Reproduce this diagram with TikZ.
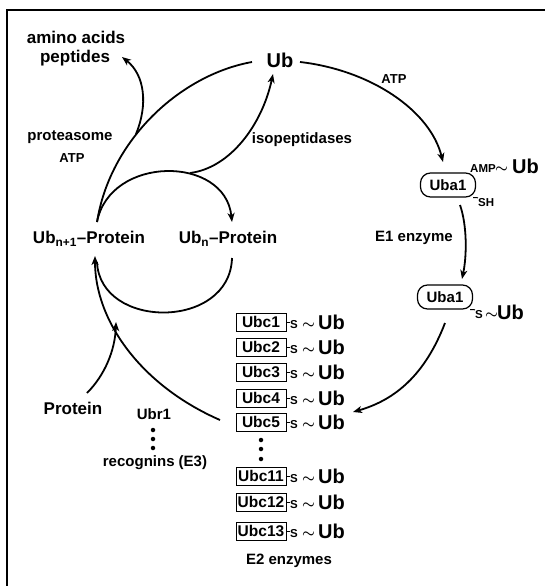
\documentclass[tikz,border=0pt]{standalone}
\usepackage{fontspec}
\setmainfont{Liberation Sans}
\usetikzlibrary{arrows.meta}
\newcommand\tilsym{{\boldmath$\sim$}}
\begin{document}
\begin{tikzpicture}[x=1pt,y=-1pt,
  txt/.style={inner sep=0pt, font=\bfseries\fontsize{15}{15}\selectfont},
  bigtxt/.style={inner sep=0pt, font=\bfseries\fontsize{17}{17}\selectfont},
  ubtxt/.style={inner sep=0pt, anchor=base west, font=\bfseries\fontsize{20}{20}\selectfont},
  smalltxt/.style={inner sep=0pt, anchor=base west, font=\bfseries\fontsize{11.5}{11.5}\selectfont},
  tildetxt/.style={inner sep=0pt, anchor=base west, font=\fontsize{15}{15}\selectfont},
  atptxt/.style={inner sep=0pt, font=\bfseries\fontsize{13}{13}\selectfont},
  ubcbox/.style={draw, line width=1pt, minimum width=50pt, minimum height=18pt, inner sep=0pt, font=\bfseries\fontsize{15.5}{15.5}\selectfont},
  ubabox/.style={draw, line width=1.2pt, rounded corners=10pt, minimum width=55pt, minimum height=24pt, inner sep=0pt, font=\bfseries\fontsize{15}{15}\selectfont},
  conn/.style={line width=1.8pt},
  arr/.style={conn, -{Stealth[length=9pt,width=7pt,inset=2.5pt]}},
  tick/.style={line width=1pt},
  frame/.style={line width=1.4pt},
  dot/.style={circle, fill, inner sep=0pt, minimum size=4.5pt}
]
\useasboundingbox (0,0) rectangle (545,586);
\draw[frame] (7,586) -- (7,10) -- (545,10);

% top texts
\node[bigtxt] (amino) at (76,37) {amino acids};
\node[bigtxt] (pept) at (75,58) {peptides};
\node[inner sep=0pt, font=\bfseries\fontsize{20}{20}\selectfont] (ub) at (280,60) {Ub};
\node[atptxt] (atp1) at (394,79) {ATP};
\node[txt] (protsome) at (70,137) {proteasome};
\node[atptxt] (atp2) at (72,158) {ATP};
\node[txt] (isop) at (302,140) {isopeptidases};

% proteins
\node[bigtxt] (ubn1) at (89,239) {Ub\textsubscript{n+1}–Protein};
\node[bigtxt] (ubn) at (228,239) {Ub\textsubscript{n}–Protein};
\node[bigtxt] (prot) at (73,408) {Protein};
\node[txt] (ubr) at (154,414) {Ubr1};
\node[dot] (ed1) at (153,430) {};
\node[dot] (ed2) at (153,439) {};
\node[dot] (ed3) at (153,448) {};
\node[txt] (recog) at (155,463) {recognins (E3)};

% E1
\node[ubabox] (ua1) at (448,185) {Uba1};
\node[smalltxt] (amp) at (470,172) {AMP};
\node[tildetxt] (tl1) at (495,172) {\tilsym};
\node[ubtxt] (ubA) at (512,173) {Ub};
\node[smalltxt] (sh) at (478,206) {SH};
\draw[tick] ([xshift=-3pt]ua1.south east) -- (sh.north west);
\node[txt] (e1) at (414,238) {E1 enzyme};
\node[ubabox] (ua2) at (445,297) {Uba1};
\node[smalltxt] (s0) at (475,318) {S};
\node[tildetxt] (tl0) at (485,318) {\tilsym};
\node[ubtxt] (ubB) at (497,319) {Ub};
\draw[tick] ([xshift=-3pt]ua2.south east) -- (s0.north west);

% E2 list
\foreach \n/\y in {1/322,2/347,3/372,4/398,5/422,11/476,12/502,13/531}{
  \node[ubcbox] (c\n) at (261,\y) {Ubc\n};
  \node[smalltxt] (s\n) at (290,\y+6) {S};
  \node[tildetxt] (t\n) at (302,\y+6) {\tilsym};
  \node[ubtxt] (u\n) at (318,\y+7) {Ub};
  \draw[tick] (c\n.east) -- (c\n.east -| s\n.west);
}
\node[dot] (cd1) at (261,440) {};
\node[dot] (cd2) at (261,449) {};
\node[dot] (cd3) at (261,459) {};
\node[txt] (e2) at (289,561) {E2 enzymes};

% connector end points
\coordinate (pA) at (300,62);
\coordinate (pB) at (443,162);
\coordinate (pC) at (460,205);
\coordinate (pD) at (462,279);
\coordinate (pE) at (445,323);
\coordinate (pF) at (353,412);
\coordinate (pG) at (220,420);
\coordinate (pH) at (95,256);
\coordinate (pI) at (87,393);
\coordinate (pJ) at (116,322);
\coordinate (pK) at (97,222);
\coordinate (pL) at (232,222);
\coordinate (pM) at (232,258);
\coordinate (pN) at (97,262);
\coordinate (pO) at (252,62);
\coordinate (pP) at (136,134);
\coordinate (pQ) at (122,57);
\coordinate (pR) at (190,173);
\coordinate (pS) at (273,74);

\draw[arr] (pA) .. controls (370,70) and (430,110) .. (pB);
\draw[arr] (pC) .. controls (467,225) and (467,255) .. (pD);
\draw[arr] (pE) .. controls (425,375) and (395,400) .. (pF);
\draw[arr] (pG) .. controls (140,385) and (95,320) .. (pH);
\draw[arr] (pI) .. controls (105,375) and (115,350) .. (pJ);
\draw[arr] (pK) .. controls (110,155) and (225,155) .. (pL);
\draw[conn] (pM) .. controls (230,330) and (100,330) .. (pN);
\draw[conn] (pK) .. controls (110,140) and (180,75) .. (pO);
\draw[arr] (pP) .. controls (148,105) and (145,75) .. (pQ);
\draw[arr] (pR) .. controls (230,168) and (262,125) .. (pS);
\end{tikzpicture}
\end{document}
